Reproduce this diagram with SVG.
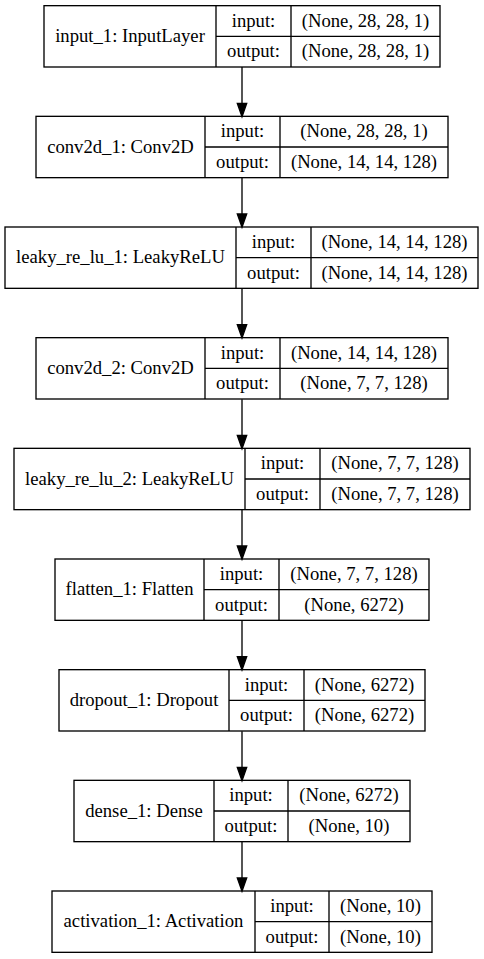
<svg xmlns="http://www.w3.org/2000/svg" width="484" height="959" viewBox="0 0 484 959">
<style>
.b{fill:none;stroke:#000;stroke-width:1.33}
.t{font-family:"Liberation Serif","Times New Roman",serif;font-size:18.67px;fill:#000;text-anchor:middle}
.e{stroke:#000;stroke-width:1.33;fill:none}
.h{fill:#000;stroke:#000;stroke-width:1.33}
</style>
<rect width="484" height="959" fill="#fff"/>
<g id="connectors">
<line class="e" x1="242" y1="67" x2="242" y2="103.3"/><polygon class="h" points="237.3,103.3 246.7,103.3 242,116.7"/>
<line class="e" x1="242" y1="177.7" x2="242" y2="214"/><polygon class="h" points="237.3,214 246.7,214 242,227.3"/>
<line class="e" x1="242" y1="288.7" x2="242" y2="324.7"/><polygon class="h" points="237.3,324.7 246.7,324.7 242,338"/>
<line class="e" x1="242" y1="399.3" x2="242" y2="435.3"/><polygon class="h" points="237.3,435.3 246.7,435.3 242,448.7"/>
<line class="e" x1="242" y1="510" x2="242" y2="546"/><polygon class="h" points="237.3,546 246.7,546 242,559.3"/>
<line class="e" x1="242" y1="620.7" x2="242" y2="656.7"/><polygon class="h" points="237.3,656.7 246.7,656.7 242,670"/>
<line class="e" x1="242" y1="731.3" x2="242" y2="767.3"/><polygon class="h" points="237.3,767.3 246.7,767.3 242,780.7"/>
<line class="e" x1="242" y1="842" x2="242" y2="878"/><polygon class="h" points="237.3,878 246.7,878 242,891.3"/>
</g>
<g id="input_1">
<rect class="b" x="44" y="5.67" width="396" height="61.33"/>
<line class="b" x1="216" y1="5.67" x2="216" y2="67"/><line class="b" x1="291" y1="5.67" x2="291" y2="67"/><line class="b" x1="216" y1="36.33" x2="440" y2="36.33"/>
<text class="t" x="130" y="41.9">input_1: InputLayer</text>
<text class="t" x="253.5" y="26.6">input:</text><text class="t" x="253.5" y="57.3">output:</text>
<text class="t" x="365.5" y="26.6">(None, 28, 28, 1)</text><text class="t" x="365.5" y="57.3">(None, 28, 28, 1)</text>
</g>
<g id="conv2d_1">
<rect class="b" x="36" y="116.33" width="412" height="61.33"/>
<line class="b" x1="205" y1="116.33" x2="205" y2="177.67"/><line class="b" x1="280" y1="116.33" x2="280" y2="177.67"/><line class="b" x1="205" y1="147" x2="448" y2="147"/>
<text class="t" x="120.5" y="152.6">conv2d_1: Conv2D</text>
<text class="t" x="242.5" y="137.3">input:</text><text class="t" x="242.5" y="168">output:</text>
<text class="t" x="364" y="137.3">(None, 28, 28, 1)</text><text class="t" x="364" y="168">(None, 14, 14, 128)</text>
</g>
<g id="leaky_re_lu_1">
<rect class="b" x="5" y="227" width="473" height="61.33"/>
<line class="b" x1="236" y1="227" x2="236" y2="288.33"/><line class="b" x1="311" y1="227" x2="311" y2="288.33"/><line class="b" x1="236" y1="257.67" x2="478" y2="257.67"/>
<text class="t" x="120.5" y="263.3">leaky_re_lu_1: LeakyReLU</text>
<text class="t" x="273.5" y="248">input:</text><text class="t" x="273.5" y="278.6">output:</text>
<text class="t" x="394.5" y="248">(None, 14, 14, 128)</text><text class="t" x="394.5" y="278.6">(None, 14, 14, 128)</text>
</g>
<g id="conv2d_2">
<rect class="b" x="36" y="337.67" width="412" height="61.33"/>
<line class="b" x1="205" y1="337.67" x2="205" y2="399"/><line class="b" x1="280" y1="337.67" x2="280" y2="399"/><line class="b" x1="205" y1="368.33" x2="448" y2="368.33"/>
<text class="t" x="120.5" y="374">conv2d_2: Conv2D</text>
<text class="t" x="242.5" y="358.6">input:</text><text class="t" x="242.5" y="389.3">output:</text>
<text class="t" x="364" y="358.6">(None, 14, 14, 128)</text><text class="t" x="364" y="389.3">(None, 7, 7, 128)</text>
</g>
<g id="leaky_re_lu_2">
<rect class="b" x="14" y="448.33" width="456" height="61.33"/>
<line class="b" x1="245" y1="448.33" x2="245" y2="509.67"/><line class="b" x1="320" y1="448.33" x2="320" y2="509.67"/><line class="b" x1="245" y1="479" x2="470" y2="479"/>
<text class="t" x="129.5" y="484.6">leaky_re_lu_2: LeakyReLU</text>
<text class="t" x="282.5" y="469.3">input:</text><text class="t" x="282.5" y="500">output:</text>
<text class="t" x="395" y="469.3">(None, 7, 7, 128)</text><text class="t" x="395" y="500">(None, 7, 7, 128)</text>
</g>
<g id="flatten_1">
<rect class="b" x="55" y="559" width="374" height="61.33"/>
<line class="b" x1="204" y1="559" x2="204" y2="620.33"/><line class="b" x1="279" y1="559" x2="279" y2="620.33"/><line class="b" x1="204" y1="589.67" x2="429" y2="589.67"/>
<text class="t" x="129.5" y="595.3">flatten_1: Flatten</text>
<text class="t" x="241.5" y="580">input:</text><text class="t" x="241.5" y="610.6">output:</text>
<text class="t" x="354" y="580">(None, 7, 7, 128)</text><text class="t" x="354" y="610.6">(None, 6272)</text>
</g>
<g id="dropout_1">
<rect class="b" x="59" y="669.67" width="366" height="61.33"/>
<line class="b" x1="229" y1="669.67" x2="229" y2="731"/><line class="b" x1="304" y1="669.67" x2="304" y2="731"/><line class="b" x1="229" y1="700.33" x2="425" y2="700.33"/>
<text class="t" x="144" y="706">dropout_1: Dropout</text>
<text class="t" x="266.5" y="690.6">input:</text><text class="t" x="266.5" y="721.3">output:</text>
<text class="t" x="364.5" y="690.6">(None, 6272)</text><text class="t" x="364.5" y="721.3">(None, 6272)</text>
</g>
<g id="dense_1">
<rect class="b" x="74" y="780.33" width="336" height="61.33"/>
<line class="b" x1="214" y1="780.33" x2="214" y2="841.67"/><line class="b" x1="288" y1="780.33" x2="288" y2="841.67"/><line class="b" x1="214" y1="811" x2="410" y2="811"/>
<text class="t" x="144" y="816.6">dense_1: Dense</text>
<text class="t" x="251" y="801.3">input:</text><text class="t" x="251" y="832">output:</text>
<text class="t" x="349" y="801.3">(None, 6272)</text><text class="t" x="349" y="832">(None, 10)</text>
</g>
<g id="activation_1">
<rect class="b" x="52" y="891" width="380" height="61.33"/>
<line class="b" x1="255" y1="891" x2="255" y2="952.33"/><line class="b" x1="329" y1="891" x2="329" y2="952.33"/><line class="b" x1="255" y1="921.67" x2="432" y2="921.67"/>
<text class="t" x="153.5" y="927.3">activation_1: Activation</text>
<text class="t" x="292" y="912">input:</text><text class="t" x="292" y="942.6">output:</text>
<text class="t" x="380.5" y="912">(None, 10)</text><text class="t" x="380.5" y="942.6">(None, 10)</text>
</g>
</svg>
